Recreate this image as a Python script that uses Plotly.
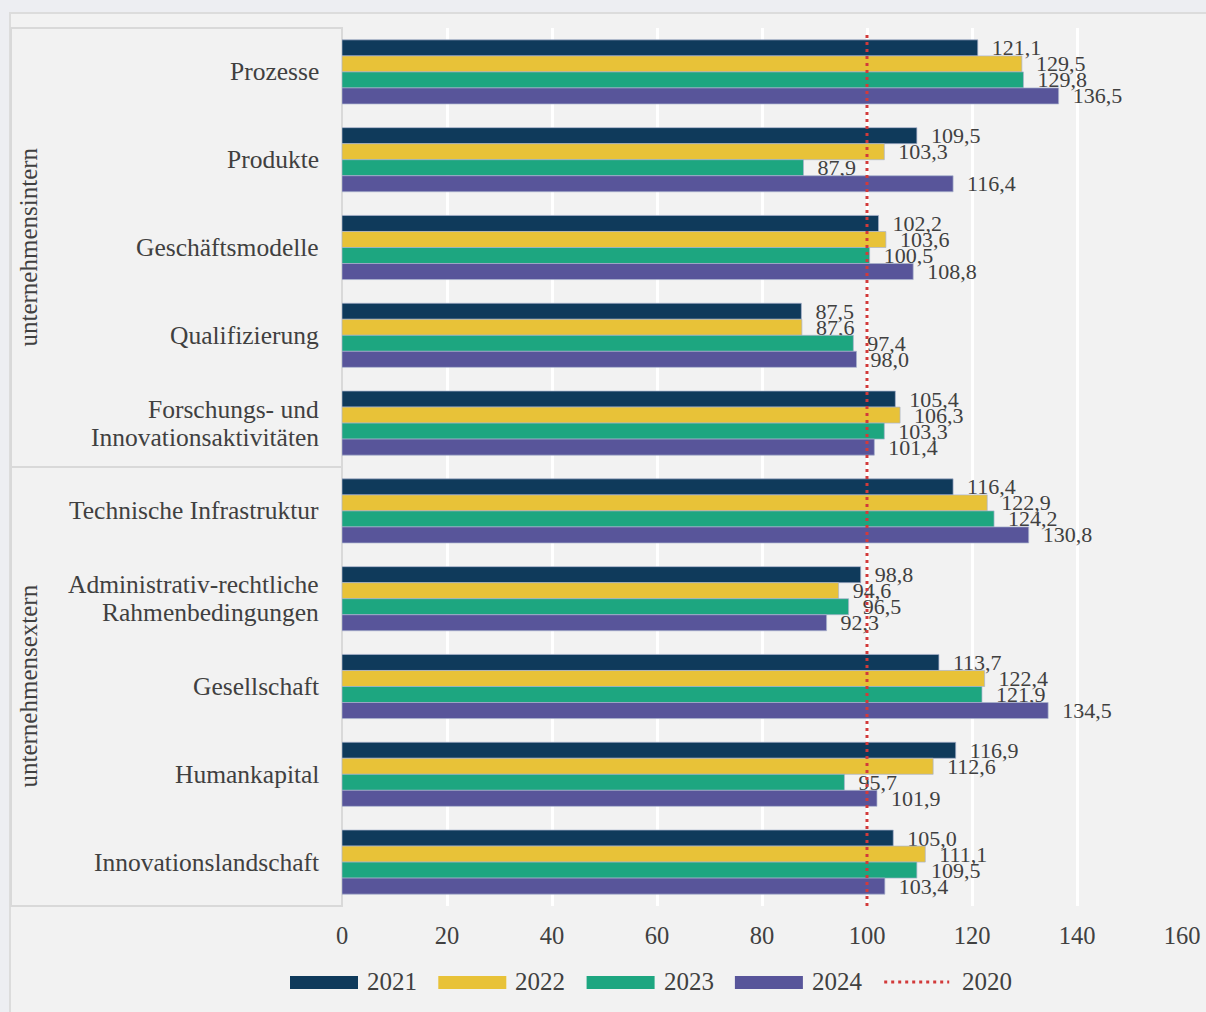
import plotly.graph_objects as go

categories = [
    "Prozesse",
    "Produkte",
    "Geschäftsmodelle",
    "Qualifizierung",
    "Forschungs- und<br>Innovationsaktivitäten",
    "Technische Infrastruktur",
    "Administrativ-rechtliche<br>Rahmenbedingungen",
    "Gesellschaft",
    "Humankapital",
    "Innovationslandschaft",
]
series_names = ["2021", "2022", "2023", "2024"]
values_2021 = [121.1, 109.5, 102.2, 87.5, 105.4, 116.4, 98.8, 113.7, 116.9, 105.0]
values_2022 = [129.5, 103.3, 103.6, 87.6, 106.3, 122.9, 94.6, 122.4, 112.6, 111.1]
values_2023 = [129.8, 87.9, 100.5, 97.4, 103.3, 124.2, 96.5, 121.9, 95.7, 109.5]
values_2024 = [136.5, 116.4, 108.8, 98.0, 101.4, 130.8, 92.3, 134.5, 101.9, 103.4]
series_values = [values_2021, values_2022, values_2023, values_2024]
colors = ["#0f3a5b", "#e8c238", "#1da680", "#58559a"]
baseline_name = "2020"
baseline_value = 100
group_names = ["unternehmensintern", "unternehmensextern"]
group_sizes = [5, 5]
x_ticks = [0, 20, 40, 60, 80, 100, 120, 140, 160]

FONT = "Liberation Serif"
TXT = "#404040"

# plot area in pixels
L, R, T, B = 342, 1182, 28, 906
W, H = R - L, B - T
px2x = lambda px: (px - L) / W
py2y = lambda py: (B - py) / H

fig = go.Figure()
for name, vals, col in zip(series_names, series_values, colors):
    fig.add_trace(go.Bar(
        y=categories, x=vals, name=name, orientation="h",
        marker=dict(color=col, line=dict(color="rgba(170,180,205,0.7)", width=1)),
        texttemplate="\u00a0\u00a0%{x:.1f}", textposition="outside",
        textfont=dict(family=FONT, size=22, color=TXT),
        constraintext="none", cliponaxis=False, showlegend=False,
    ))

shapes = []
annotations = []
# outer frame
shapes.append(dict(type="rect", xref="paper", yref="paper",
                   x0=px2x(10), x1=px2x(1230), y0=py2y(13), y1=py2y(1040),
                   fillcolor="#f2f2f2", line=dict(color="#dcdcdc", width=2), layer="below"))
# category box
shapes.append(dict(type="rect", xref="paper", yref="paper",
                   x0=px2x(11), x1=0, y0=0, y1=1,
                   line=dict(color="#d9d9d9", width=2), layer="below"))
# group divider(s) and group labels
start = 0
for gname, size in zip(group_names, group_sizes):
    end = start + size
    if end < len(categories):
        shapes.append(dict(type="line", xref="paper", yref="y",
                           x0=px2x(11), x1=0, y0=end - 0.5, y1=end - 0.5,
                           line=dict(color="#d9d9d9", width=2), layer="below"))
    annotations.append(dict(text=gname, xref="paper", yref="y",
                            x=px2x(28), y=(start + end - 1) / 2, textangle=-90,
                            showarrow=False, xanchor="center", yanchor="middle",
                            font=dict(family=FONT, size=25, color=TXT)))
    start = end

# category labels (each line centered, block right-aligned)
for i, cat in enumerate(categories):
    lines = cat.split("<br>")
    n = len(lines)
    for j, ln in enumerate(lines):
        annotations.append(dict(text=ln, xref="paper", yref="y", x=0, y=i,
                                xanchor="right", yanchor="middle", xshift=-21,
                                yshift=(n - 1) / 2 * 28 - j * 28,
                                showarrow=False,
                                font=dict(family=FONT, size=25.5, color=TXT)))

# baseline line
shapes.append(dict(type="line", xref="x", yref="paper", x0=baseline_value, x1=baseline_value,
                   y0=0, y1=0.992, line=dict(color="#d23a3a", width=3, dash="3px,4px"), layer="above"))

# legend
leg_y = py2y(982)
step = 148.3
x0 = 290
for k, (name, col) in enumerate(zip(series_names, colors)):
    sx = x0 + k * step
    shapes.append(dict(type="rect", xref="paper", yref="paper",
                       x0=px2x(sx), x1=px2x(sx + 68), y0=py2y(989), y1=py2y(976),
                       fillcolor=col, line=dict(width=0)))
    annotations.append(dict(text=name, xref="paper", yref="paper", x=px2x(sx + 75), y=leg_y,
                            xanchor="left", yanchor="middle", showarrow=False,
                            font=dict(family=FONT, size=25, color=TXT)))
sx = x0 + 4 * step
shapes.append(dict(type="line", xref="paper", yref="paper",
                   x0=px2x(sx + 1), x1=px2x(sx + 66), y0=leg_y, y1=leg_y,
                   line=dict(color="#d23a3a", width=3, dash="3px,4px")))
annotations.append(dict(text=baseline_name, xref="paper", yref="paper", x=px2x(sx + 77), y=leg_y,
                        xanchor="left", yanchor="middle", showarrow=False,
                        font=dict(family=FONT, size=25, color=TXT)))

fig.update_layout(
    width=1206, height=1012, autosize=False,
    margin=dict(l=L, r=1206 - R, t=T, b=1012 - B, pad=0, autoexpand=False),
    paper_bgcolor="#edeef2", plot_bgcolor="rgba(0,0,0,0)",
    barmode="group", bargap=0.27, bargroupgap=0,
    separators=",.",
    font=dict(family=FONT, color=TXT),
    shapes=shapes, annotations=annotations,
    showlegend=False,
    xaxis=dict(range=[0, 160], tickvals=x_ticks, showgrid=True, gridcolor="#ffffff", gridwidth=2.5,
               zeroline=True, zerolinecolor="#d9d9d9", zerolinewidth=2, automargin=False,
               ticks="", ticklabelstandoff=12, tickfont=dict(family=FONT, size=24.5, color=TXT),
               showline=False, fixedrange=True),
    yaxis=dict(autorange="reversed", showticklabels=False, showgrid=False, zeroline=False,
               automargin=False, ticks="", showline=False, fixedrange=True),
)

fig.write_html("out.html")
